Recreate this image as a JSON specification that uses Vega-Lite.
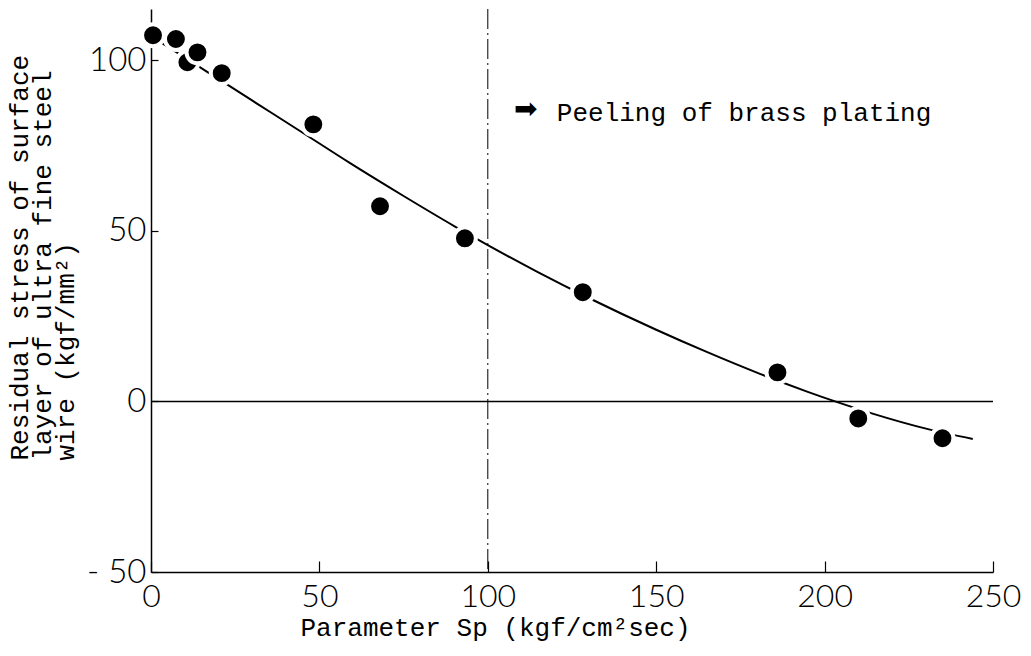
{
  "$schema": "https://vega.github.io/schema/vega-lite/v6.json",
  "width": 842,
  "height": 563,
  "autosize": {"type": "none"},
  "padding": {"left": 151, "top": 9, "right": 38, "bottom": 84},
  "background": "white",
  "config": {
    "view": {"stroke": null},
    "axis": {"grid": false, "domainColor": "black", "tickColor": "black", "domainWidth": 1.5, "tickWidth": 1.2}
  },
  "datasets": {
    "points": [
      {"sp": 0.6, "stress": 107.3},
      {"sp": 7.4, "stress": 106.2},
      {"sp": 10.8, "stress": 99.4},
      {"sp": 13.8, "stress": 102.3},
      {"sp": 21.0, "stress": 96.2},
      {"sp": 48.2, "stress": 81.2},
      {"sp": 68.0, "stress": 57.2},
      {"sp": 93.2, "stress": 47.8},
      {"sp": 128.2, "stress": 32.0},
      {"sp": 186.0, "stress": 8.5},
      {"sp": 210.0, "stress": -5.0},
      {"sp": 235.0, "stress": -10.8}
    ],
    "curve": [
      {"sp": 0, "stress": 107.0},
      {"sp": 10, "stress": 100.8},
      {"sp": 20, "stress": 94.5},
      {"sp": 30, "stress": 88.2},
      {"sp": 44, "stress": 79.4},
      {"sp": 59, "stress": 69.9},
      {"sp": 75, "stress": 60.2},
      {"sp": 90, "stress": 51.4},
      {"sp": 100, "stress": 45.8},
      {"sp": 115, "stress": 37.8},
      {"sp": 130, "stress": 30.3},
      {"sp": 150, "stress": 21.0},
      {"sp": 165, "stress": 14.5},
      {"sp": 181, "stress": 8.0},
      {"sp": 195, "stress": 2.8},
      {"sp": 204, "stress": -0.3},
      {"sp": 214, "stress": -3.5},
      {"sp": 231, "stress": -8.2},
      {"sp": 244, "stress": -11.0}
    ],
    "zeroline": [{"y": 0, "x1": 0, "x2": 250}],
    "peel": [{"x": 100}],
    "note": [{"sp": 120.5, "stress": 84.5, "label": "Peeling of brass plating"}],
    "arrow": [{"sp": 111.3, "stress": 85.5, "label": "➡"}]
  },
  "layer": [
    {
      "data": {"name": "zeroline"},
      "mark": {"type": "rule", "color": "black", "strokeWidth": 1.5},
      "encoding": {
        "x": {"field": "x1", "type": "quantitative", "scale": {"domain": [0, 250], "nice": false}},
        "x2": {"field": "x2"},
        "y": {"field": "y", "type": "quantitative", "scale": {"domain": [-50, 115], "nice": false, "zero": false}}
      }
    },
    {
      "data": {"name": "peel"},
      "mark": {"type": "rule", "color": "black", "strokeWidth": 1, "strokeDash": [20, 4, 2, 4]},
      "encoding": {
        "x": {"field": "x", "type": "quantitative"}
      }
    },
    {
      "data": {"name": "curve"},
      "mark": {"type": "line", "color": "black", "strokeWidth": 2, "interpolate": "monotone"},
      "encoding": {
        "x": {"field": "sp", "type": "quantitative"},
        "y": {"field": "stress", "type": "quantitative"}
      }
    },
    {
      "data": {"name": "points"},
      "mark": {"type": "circle", "color": "black", "opacity": 1, "size": 480, "stroke": "white", "strokeWidth": 4, "strokeOpacity": 1, "fill": "black", "fillOpacity": 1},
      "encoding": {
        "x": {
          "field": "sp", "type": "quantitative",
          "axis": {
            "title": "Parameter Sp (kgf/cm²sec)",
            "titleFont": "Liberation Mono", "titleFontSize": 26, "titleFontWeight": "normal", "titleColor": "black",
            "titleAlign": "left", "titleX": 149, "titleY": 63, "titleBaseline": "alphabetic",
            "values": [0, 50, 100, 150, 200, 250],
            "tickSize": -11, "labelPadding": 20,
            "labelFont": "Lato", "labelFontWeight": 300, "labelFontSize": 32, "labelColor": "black",
            "labelFlush": false, "labelOverlap": false
          }
        },
        "y": {
          "field": "stress", "type": "quantitative",
          "axis": {
            "title": ["Residual stress of surface", "layer of ultra fine steel", "wire (kgf/mm²)"],
            "titleFont": "Liberation Mono", "titleFontSize": 26, "titleFontWeight": "normal", "titleColor": "black",
            "titleAngle": 270, "titleAlign": "left", "titleBaseline": "top", "titleLineHeight": 23,
            "titleX": -145, "titleY": 451,
            "values": [-50, 0, 50, 100],
            "labelExpr": "datum.value < 0 ? '- ' + abs(datum.value) : datum.label",
            "tickSize": -7, "labelPadding": 12,
            "labelFont": "Lato", "labelFontWeight": 300, "labelFontSize": 33, "labelColor": "black",
            "labelFlush": false, "labelOverlap": false
          }
        }
      }
    },
    {
      "data": {"name": "note"},
      "mark": {"type": "text", "align": "left", "baseline": "middle", "font": "Liberation Mono", "fontSize": 26, "color": "black"},
      "encoding": {
        "x": {"field": "sp", "type": "quantitative"},
        "y": {"field": "stress", "type": "quantitative"},
        "text": {"field": "label"}
      }
    },
    {
      "data": {"name": "arrow"},
      "mark": {"type": "text", "align": "center", "baseline": "middle", "font": "DejaVu Sans", "fontSize": 28, "color": "black"},
      "encoding": {
        "x": {"field": "sp", "type": "quantitative"},
        "y": {"field": "stress", "type": "quantitative"},
        "text": {"field": "label"}
      }
    }
  ]
}
